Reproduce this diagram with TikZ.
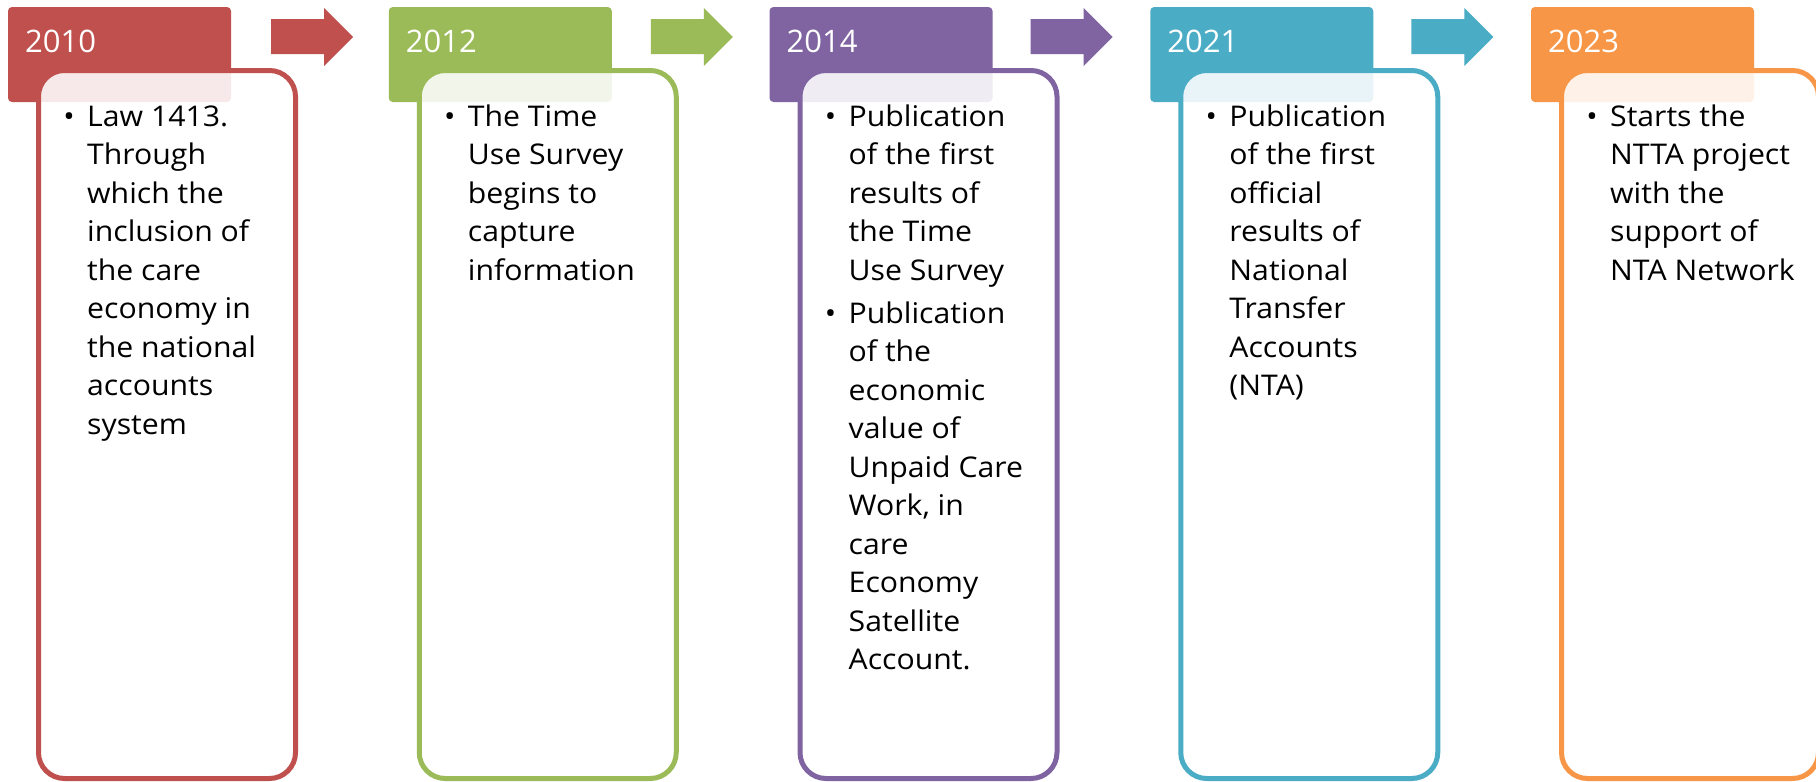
\documentclass[tikz,border=0pt]{standalone}
\usepackage{fontspec}
\setmainfont{Open Sans}
\newfontfamily\bodyfont[FakeStretch=1.06]{Open Sans}
\definecolor{cRed}{HTML}{C0504D}
\definecolor{cGreen}{HTML}{9BBB59}
\definecolor{cPurple}{HTML}{8064A2}
\definecolor{cAqua}{HTML}{4BACC6}
\definecolor{cOrange}{HTML}{F79646}
\newcommand\bul{\leavevmode\llap{\textbullet\hspace{12.5pt}}}
\newcommand\bodytext[1]{\parbox[t]{215pt}{\raggedright #1}}
% block arrow: #1 = name of its left-middle coordinate, #2 = colour
\newcommand\blockarr[2]{\fill[#2] ([shift={(0,-18)}]#1) -- ([shift={(53,-18)}]#1) -- ([shift={(53,-29)}]#1) -- ([shift={(82,0)}]#1) -- ([shift={(53,29)}]#1) -- ([shift={(53,17)}]#1) -- ([shift={(0,17)}]#1) -- cycle;}
\begin{document}
\begin{tikzpicture}[x=1pt,y=-1pt,
  header/.style={rectangle, rounded corners=4pt, minimum width=223pt, minimum height=95pt, inner sep=0pt, draw=none},
  card/.style={rectangle, rounded corners=26pt, minimum width=257pt, minimum height=708pt, line width=5pt, fill=white, fill opacity=0.88, inner sep=0pt},
  year/.style={anchor=base west, text=white, font=\fontsize{31}{31}\selectfont, inner sep=0pt},
  body/.style={anchor=base west, inner sep=0pt, font=\bodyfont\fontsize{28.5}{38.5}\selectfont}]
\useasboundingbox (0,0) rectangle (1816,782);
\clip (0,0) rectangle (1816,782);
\fill[white] (0,0) rectangle (1816,782);

% ---------- 2010 ----------
\node[header, fill=cRed] (h1) at (8+111.5,54.5) {};
\node[card, draw=cRed] (c1) at (8+159,424.5) {};
\node[year] (y1) at (8+17,52) {2010};
\node[body] (t1) at (8+79,126) {\bodytext{\bul Law 1413.\\ Through\\ which the\\ inclusion of\\ the care\\ economy in\\ the national\\ accounts\\ system}};
\coordinate (a1) at (8+263,37);
\blockarr{a1}{cRed}

% ---------- 2012 ----------
\node[header, fill=cGreen] (h2) at (388.75+111.5,54.5) {};
\node[card, draw=cGreen] (c2) at (388.75+159,424.5) {};
\node[year] (y2) at (388.75+17,52) {2012};
\node[body] (t2) at (388.75+79,126) {\bodytext{\bul The Time\\ Use Survey\\ begins to\\ capture\\ information}};
\coordinate (a2) at (388.75+262,37);
\blockarr{a2}{cGreen}

% ---------- 2014 ----------
\node[header, fill=cPurple] (h3) at (769.5+111.5,54.5) {};
\node[card, draw=cPurple] (c3) at (769.5+159,424.5) {};
\node[year] (y3) at (769.5+17,52) {2014};
\node[body] (t3) at (769.5+79,126) {\bodytext{\bul Publication\\ of the first\\ results of\\ the Time\\ Use Survey\\[4.5pt]
\bul Publication\\ of the\\ economic\\ value of\\ Unpaid Care\\ Work, in\\ care\\ Economy\\ Satellite\\ Account.}};
\coordinate (a3) at (769.5+261,37);
\blockarr{a3}{cPurple}

% ---------- 2021 ----------
\node[header, fill=cAqua] (h4) at (1150.25+111.5,54.5) {};
\node[card, draw=cAqua] (c4) at (1150.25+159,424.5) {};
\node[year] (y4) at (1150.25+17,52) {2021};
\node[body] (t4) at (1150.25+79,126) {\bodytext{\bul Publication\\ of the first\\ official\\ results of\\ National\\ Transfer\\ Accounts\\ (NTA)}};
\coordinate (a4) at (1150.25+261,37);
\blockarr{a4}{cAqua}

% ---------- 2023 ----------
\node[header, fill=cOrange] (h5) at (1531+111.5,54.5) {};
\node[card, draw=cOrange] (c5) at (1531+159,424.5) {};
\node[year] (y5) at (1531+17,52) {2023};
\node[body] (t5) at (1531+79,126) {\bodytext{\bul Starts the\\ NTTA project\\ with the\\ support of\\ NTA Network}};
\end{tikzpicture}
\end{document}
